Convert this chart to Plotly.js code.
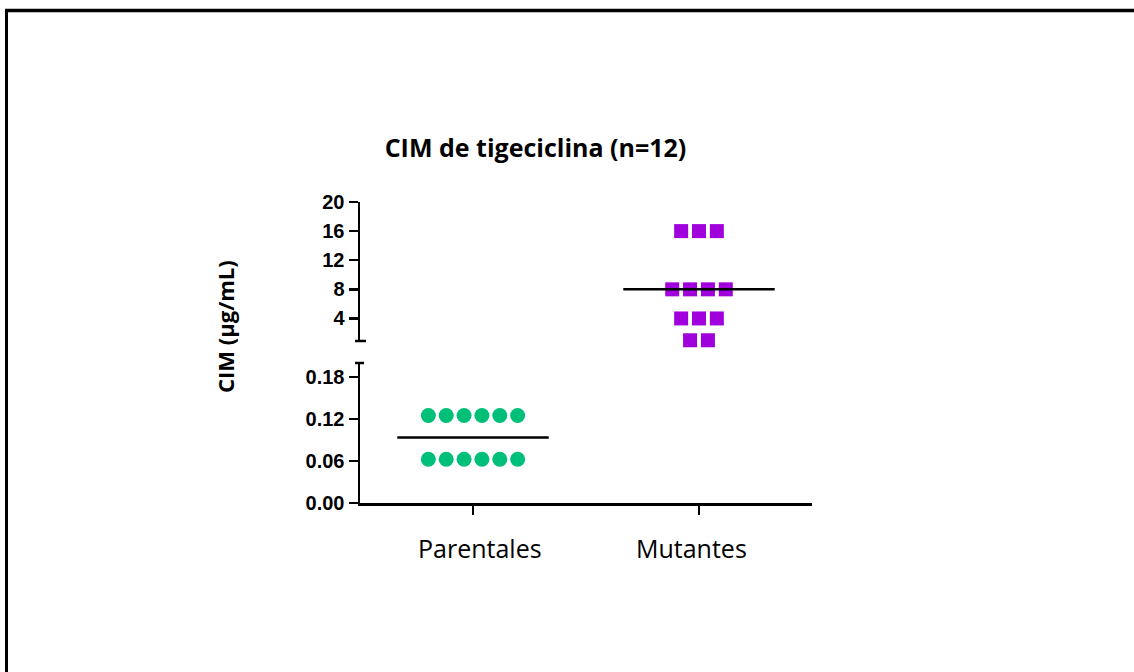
<!DOCTYPE html>
<html>
<head>
<meta charset="utf-8">
<script src="https://cdn.plot.ly/plotly-3.0.1.min.js"></script>
<style>
  html, body { margin: 0; padding: 0; background: #ffffff; }
  #chart { width: 1134px; height: 672px; }
</style>
</head>
<body>
<div id="chart"></div>
<script>
// Tigecycline MIC values (µg/mL) per group
const categories = ['Parentales', 'Mutantes'];
const parentalesMIC = [0.125, 0.125, 0.125, 0.125, 0.125, 0.125,
                       0.0625, 0.0625, 0.0625, 0.0625, 0.0625, 0.0625];
const mutantesMIC = [16, 16, 16, 8, 8, 8, 8, 4, 4, 4, 1, 1];

// Tick values for the two segments of the broken y axis
const lowerTicks = [0, 0.06, 0.12, 0.18];
const upperTicks = [4, 8, 12, 16, 20];

// Spread identical values side by side around the category centre
function spread(values, center, step) {
  const counts = {}, seen = {};
  values.forEach(v => { counts[v] = (counts[v] || 0) + 1; });
  return values.map(v => {
    seen[v] = seen[v] === undefined ? 0 : seen[v] + 1;
    return center + (seen[v] - (counts[v] - 1) / 2) * step;
  });
}
function median(a) {
  const s = [...a].sort((p, q) => p - q), n = s.length;
  return n % 2 ? s[(n - 1) / 2] : (s[n / 2 - 1] + s[n / 2]) / 2;
}

const W = 1134, H = 672;
const M = { l: 360, r: 322, t: 202, b: 169 };
const plotW = W - M.l - M.r, plotH = H - M.t - M.b;
const px2x = px => (px - M.l) / plotW;          // pixel -> paper x
const px2y = py => (H - M.b - py) / plotH;      // pixel -> paper y

const step = 0.079, halfLine = 0.335;
const medP = median(parentalesMIC), medM = median(mutantesMIC);

const traces = [
  {
    x: spread(parentalesMIC, 0, step), y: parentalesMIC,
    xaxis: 'x', yaxis: 'y', type: 'scatter', mode: 'markers', cliponaxis: false,
    marker: { symbol: 'circle', size: 15, color: '#00BF78' },
    hoverinfo: 'y'
  },
  {
    x: [0 - halfLine, 0 + halfLine], y: [medP, medP],
    xaxis: 'x', yaxis: 'y', type: 'scatter', mode: 'lines',
    line: { color: '#000000', width: 2.5 }, hoverinfo: 'skip'
  },
  {
    x: spread(mutantesMIC, 1, step), y: mutantesMIC,
    xaxis: 'x', yaxis: 'y2', type: 'scatter', mode: 'markers', cliponaxis: false,
    marker: { symbol: 'square', size: 14, color: '#A000DC' },
    hoverinfo: 'y'
  },
  {
    x: [1 - halfLine, 1 + halfLine], y: [medM, medM],
    xaxis: 'x', yaxis: 'y2', type: 'scatter', mode: 'lines',
    line: { color: '#000000', width: 2.5 }, hoverinfo: 'skip'
  }
];

const tickFont = { family: 'Liberation Sans, Arial, sans-serif', size: 20, color: '#000', weight: 'bold' };
const axisCommon = {
  showline: true, linecolor: '#000', linewidth: 2.5,
  ticks: 'outside', ticklen: 9, tickwidth: 2.5, tickcolor: '#000',
  showgrid: false, zeroline: false, fixedrange: true, tickfont: tickFont
};

const lowerTop = 363, upperBottom = 341;

const layout = {
  width: W, height: H,
  margin: { l: M.l, r: M.r, t: M.t, b: M.b, pad: 0 },
  paper_bgcolor: '#ffffff', plot_bgcolor: '#ffffff',
  showlegend: false,
  title: {
    text: '<b>CIM de tigeciclina (n=12)</b>',
    font: { family: 'Open Sans, sans-serif', size: 25, color: '#000' },
    xref: 'paper', x: px2x(535.5), xanchor: 'center',
    yref: 'container', y: 1 - 148 / H, yanchor: 'middle'
  },
  xaxis: Object.assign({}, axisCommon, {
    domain: [0, 1], range: [-0.5, 1.5], anchor: 'y',
    tickvals: categories.map((c, i) => i), showticklabels: false
  }),
  yaxis: Object.assign({}, axisCommon, {
    domain: [0, px2y(lowerTop)], range: [0, 0.2], anchor: 'x',
    tickvals: lowerTicks, ticktext: lowerTicks.map(v => v.toFixed(2))
  }),
  yaxis2: Object.assign({}, axisCommon, {
    domain: [px2y(upperBottom), 1], range: [0.9, 20], anchor: 'x',
    tickvals: upperTicks, ticktext: upperTicks.map(String)
  }),
  shapes: [
    // end caps of the two y-axis segments
    { type: 'line', xref: 'paper', yref: 'y2 domain', x0: px2x(355), x1: px2x(366), y0: 0, y1: 0,
      line: { color: '#000', width: 2.5 } },
    { type: 'line', xref: 'paper', yref: 'y domain', x0: px2x(355), x1: px2x(364), y0: 1, y1: 1,
      line: { color: '#000', width: 2.5 } },
    // frame lines along the top and left edges
    { type: 'line', xref: 'paper', yref: 'paper', x0: px2x(5), x1: px2x(1140), y0: px2y(10.5), y1: px2y(10.5),
      line: { color: '#000', width: 3.5 } },
    { type: 'line', xref: 'paper', yref: 'paper', x0: px2x(6.5), x1: px2x(6.5), y0: px2y(9), y1: px2y(680),
      line: { color: '#000', width: 3 } }
  ],
  annotations: [
    {
      text: '<b>CIM (μg/mL)</b>', textangle: -90, showarrow: false,
      xref: 'paper', yref: 'paper', x: px2x(225), y: px2y(327),
      xanchor: 'center', yanchor: 'middle',
      font: { family: 'Open Sans, sans-serif', size: 22, color: '#000' }
    }
  ].concat(categories.map((c, i) => ({
    text: c, showarrow: false,
    xref: 'x', yref: 'paper', x: i, y: px2y(548),
    xshift: i === 0 ? 7 : -8,
    xanchor: 'center', yanchor: 'middle',
    font: { family: 'Open Sans, sans-serif', size: 25, color: '#000' }
  })))
};

Plotly.newPlot('chart', traces, layout, { displayModeBar: false, staticPlot: true });
</script>
</body>
</html>
